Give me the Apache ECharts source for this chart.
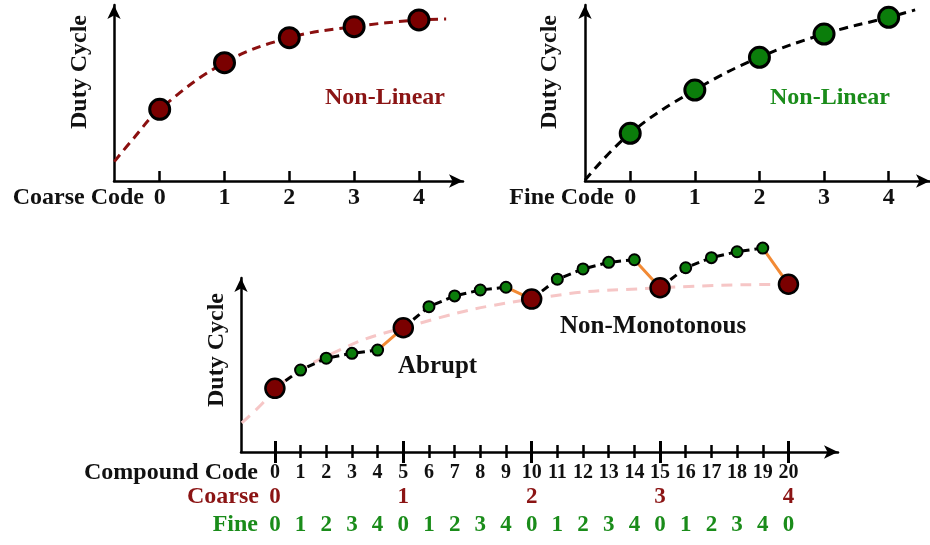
<!DOCTYPE html>
<html>
<head>
<meta charset="utf-8">
<script src="https://cdn.jsdelivr.net/npm/echarts@6/dist/echarts.min.js"></script>
<style>
  html, body { margin: 0; padding: 0; background: #ffffff; }
  #chart { width: 930px; height: 545px; }
</style>
</head>
<body>
<div id="chart"></div>
<script>
// Coarse DAC: duty cycle per coarse code, plus the dashed trend it follows
const coarseCodes = [0, 1, 2, 3, 4];
const coarseDuty = [40.7, 67.2, 81.4, 87.7, 91.5];
const coarseTrendX = [-0.7, -0.42, 0, 1, 2, 3, 4, 4.42];
const coarseTrendY = [11.0, 23.5, 40.7, 67.2, 81.4, 87.7, 91.5, 92.0];

// Fine DAC: duty cycle per fine code, plus its dashed trend
const fineCodes = [0, 1, 2, 3, 4];
const fineDuty = [27.1, 51.7, 70.3, 83.5, 93.0];
const fineTrendX = [-0.7, 0, 1, 2, 3, 4, 4.41];
const fineTrendY = [0.5, 27.1, 51.7, 70.3, 83.5, 93.0, 97.2];

// Compound code = 5 * coarse + fine
const compoundCodes = [0, 1, 2, 3, 4, 5, 6, 7, 8, 9, 10, 11, 12, 13, 14, 15, 16, 17, 18, 19, 20];
const compoundDuty = [36.6, 47.1, 53.9, 56.7, 58.6, 71.4, 83.5, 89.7, 93.1, 94.7, 87.9,
                      99.3, 105.2, 109.0, 110.5, 94.4, 105.9, 111.7, 115.1, 117.2, 96.4];
const finePerCoarse = 5;

// Ideal (coarse-only) trend drawn faintly behind the compound curve
const idealTrendX = [-1.29, -0.47, 0, 2.1, 5, 10, 15, 20];
const idealTrendY = [16.7, 28.2, 36.6, 55.7, 71.4, 87.9, 94.4, 96.4];

// Tick labels
const smallTicks = [0, 1, 2, 3, 4];
const compoundTicks = compoundCodes;
const coarseTicks = compoundCodes.filter(c => c % finePerCoarse === 0);

const DARK_RED = '#7a0000';
const RED_TEXT = '#8b1414';
const GREEN = '#0b7d0b';
const GREEN_TEXT = '#1a8c1a';
const ORANGE = '#f28a35';
const PINK = '#f6c6c6';
const FONT = '"Liberation Serif", "DejaVu Serif", serif';

const zip = (xs, ys) => xs.map((x, i) => [x, ys[i]]);

// Segments within a coarse step (dashed black) and across coarse steps (orange)
const withinData = [];
const acrossData = [];
compoundCodes.forEach((c, i) => {
  withinData.push([c, compoundDuty[i]]);
  if (c % finePerCoarse === finePerCoarse - 1) {
    withinData.push([c + 0.5, '-']);
    if (i + 1 < compoundCodes.length) {
      acrossData.push([c, compoundDuty[i]], [compoundCodes[i + 1], compoundDuty[i + 1]], [c + 0.5, '-']);
    }
  }
});
const fineMarks = [];
const coarseMarks = [];
compoundCodes.forEach((c, i) => {
  (c % finePerCoarse === 0 ? coarseMarks : fineMarks).push([c, compoundDuty[i]]);
});

const axisLineStyle = { color: '#000', width: 2.5 };

function baseY(gridIndex) {
  return {
    type: 'value', gridIndex, min: 0, max: 100,
    axisLine: { show: true, onZero: false, symbol: ['none', 'arrow'], symbolSize: [10, 14], lineStyle: axisLineStyle },
    axisTick: { show: false }, axisLabel: { show: false }, splitLine: { show: false }
  };
}

function smallX(gridIndex, min, max) {
  return {
    type: 'value', gridIndex, min, max, position: 'bottom',
    axisLine: { show: true, onZero: false, symbol: ['none', 'arrow'], symbolSize: [10, 14], lineStyle: axisLineStyle },
    axisTick: { show: true, inside: true, length: 10, customValues: smallTicks, lineStyle: { color: '#000', width: 2.5 } },
    axisLabel: { show: true, customValues: smallTicks, margin: 5, color: '#111', fontFamily: FONT, fontWeight: 'bold', fontSize: 24 },
    splitLine: { show: false }
  };
}

const BX_MIN = -1.32, BX_MAX = 21.93;
function bottomX(extra) {
  const base = {
    type: 'value', gridIndex: 2, min: BX_MIN, max: BX_MAX, position: 'bottom',
    axisLine: { show: false, onZero: false },
    axisTick: { show: false }, axisLabel: { show: false }, splitLine: { show: false }
  };
  return Object.assign(base, extra);
}

const option = {
  animation: false,
  backgroundColor: '#ffffff',
  grid: [
    { left: 114, top: 5, width: 349, height: 176, outerBoundsMode: 'none' },
    { left: 585, top: 5, width: 345, height: 176, outerBoundsMode: 'none' },
    { left: 241, top: 278, width: 597, height: 174, outerBoundsMode: 'none' }
  ],
  xAxis: [
    smallX(0, -0.705, 4.68),
    smallX(1, -0.70, 4.64),
    // main compound axis: line, short outward ticks, compound code labels
    bottomX({
      axisLine: { show: true, onZero: false, symbol: ['none', 'arrow'], symbolSize: [10, 14], lineStyle: axisLineStyle },
      axisTick: { show: true, length: 6, customValues: compoundTicks, lineStyle: { color: '#000', width: 2.5 } },
      axisLabel: { show: true, customValues: compoundTicks, margin: 11, color: '#111', fontFamily: FONT, fontWeight: 'bold', fontSize: 20 }
    }),
    // short inward ticks
    bottomX({ axisTick: { show: true, inside: true, length: 7, customValues: compoundTicks, lineStyle: { color: '#000', width: 2.5 } } }),
    // long ticks at every coarse step, both sides
    bottomX({ axisTick: { show: true, length: 11, customValues: coarseTicks, lineStyle: { color: '#000', width: 3 } } }),
    bottomX({ axisTick: { show: true, inside: true, length: 11, customValues: coarseTicks, lineStyle: { color: '#000', width: 3 } } }),
    // coarse code row
    bottomX({
      axisLabel: { show: true, customValues: coarseTicks, margin: 34, color: RED_TEXT, fontFamily: FONT, fontWeight: 'bold', fontSize: 23,
        formatter: v => String(Math.round(v) / finePerCoarse) }
    }),
    // fine code row
    bottomX({
      axisLabel: { show: true, customValues: compoundTicks, margin: 62, color: GREEN_TEXT, fontFamily: FONT, fontWeight: 'bold', fontSize: 23,
        formatter: v => String(Math.round(v) % finePerCoarse) }
    })
  ],
  yAxis: [baseY(0), baseY(1), baseY(2)],
  series: [
    // coarse chart
    { type: 'line', xAxisIndex: 0, yAxisIndex: 0, data: zip(coarseTrendX, coarseTrendY), smooth: 0.4, symbol: 'none',
      lineStyle: { color: '#8b1010', width: 3, type: [9, 6] }, z: 2 },
    { type: 'scatter', xAxisIndex: 0, yAxisIndex: 0, data: zip(coarseCodes, coarseDuty), symbolSize: 20,
      itemStyle: { color: DARK_RED, borderColor: '#000', borderWidth: 3, opacity: 1 }, z: 5 },
    // fine chart
    { type: 'line', xAxisIndex: 1, yAxisIndex: 1, data: zip(fineTrendX, fineTrendY), smooth: 0.4, symbol: 'none',
      lineStyle: { color: '#000', width: 3, type: [9, 6] }, z: 2 },
    { type: 'scatter', xAxisIndex: 1, yAxisIndex: 1, data: zip(fineCodes, fineDuty), symbolSize: 20,
      itemStyle: { color: GREEN, borderColor: '#000', borderWidth: 3, opacity: 1 }, z: 5 },
    // compound chart
    { type: 'line', xAxisIndex: 2, yAxisIndex: 2, data: zip(idealTrendX, idealTrendY), smooth: 0.5, symbol: 'none', clip: false,
      lineStyle: { color: PINK, width: 3, type: [11, 8] }, z: 1 },
    { type: 'line', xAxisIndex: 2, yAxisIndex: 2, data: acrossData, symbol: 'none', clip: false, connectNulls: false,
      lineStyle: { color: ORANGE, width: 3 }, z: 2 },
    { type: 'line', xAxisIndex: 2, yAxisIndex: 2, data: withinData, symbol: 'none', clip: false, connectNulls: false,
      lineStyle: { color: '#000', width: 3, type: [8, 5] }, z: 3 },
    { type: 'scatter', xAxisIndex: 2, yAxisIndex: 2, data: fineMarks, symbolSize: 11, clip: false,
      itemStyle: { color: GREEN, borderColor: '#000', borderWidth: 2, opacity: 1 }, z: 5 },
    { type: 'scatter', xAxisIndex: 2, yAxisIndex: 2, data: coarseMarks, symbolSize: 19, clip: false,
      itemStyle: { color: DARK_RED, borderColor: '#000', borderWidth: 2.5, opacity: 1 }, z: 6 }
  ],
  graphic: [
    { type: 'text', x: 80, y: 72, rotation: Math.PI / 2,
      style: { text: 'Duty Cycle', font: 'bold 24px ' + FONT, fill: '#111', align: 'center', verticalAlign: 'middle' } },
    { type: 'text', x: 144, y: 198,
      style: { text: 'Coarse Code', font: 'bold 24px ' + FONT, fill: '#111', align: 'right', verticalAlign: 'middle' } },
    { type: 'text', x: 325, y: 98,
      style: { text: 'Non-Linear', font: 'bold 24px ' + FONT, fill: RED_TEXT, align: 'left', verticalAlign: 'middle' } },
    { type: 'text', x: 550, y: 72, rotation: Math.PI / 2,
      style: { text: 'Duty Cycle', font: 'bold 24px ' + FONT, fill: '#111', align: 'center', verticalAlign: 'middle' } },
    { type: 'text', x: 614, y: 198,
      style: { text: 'Fine Code', font: 'bold 24px ' + FONT, fill: '#111', align: 'right', verticalAlign: 'middle' } },
    { type: 'text', x: 770, y: 98,
      style: { text: 'Non-Linear', font: 'bold 24px ' + FONT, fill: GREEN_TEXT, align: 'left', verticalAlign: 'middle' } },
    { type: 'text', x: 217, y: 350, rotation: Math.PI / 2,
      style: { text: 'Duty Cycle', font: 'bold 24px ' + FONT, fill: '#111', align: 'center', verticalAlign: 'middle' } },
    { type: 'text', x: 258, y: 473,
      style: { text: 'Compound Code', font: 'bold 24px ' + FONT, fill: '#111', align: 'right', verticalAlign: 'middle' } },
    { type: 'text', x: 259, y: 497,
      style: { text: 'Coarse', font: 'bold 24px ' + FONT, fill: RED_TEXT, align: 'right', verticalAlign: 'middle' } },
    { type: 'text', x: 258, y: 525,
      style: { text: 'Fine', font: 'bold 24px ' + FONT, fill: GREEN_TEXT, align: 'right', verticalAlign: 'middle' } },
    { type: 'text', x: 398, y: 367,
      style: { text: 'Abrupt', font: 'bold 25px ' + FONT, fill: '#111', align: 'left', verticalAlign: 'middle' } },
    { type: 'text', x: 560, y: 327,
      style: { text: 'Non-Monotonous', font: 'bold 25px ' + FONT, fill: '#111', align: 'left', verticalAlign: 'middle' } }
  ]
};

const chart = echarts.init(document.getElementById('chart'), null, { renderer: 'canvas' });
chart.setOption(option);
</script>
</body>
</html>
